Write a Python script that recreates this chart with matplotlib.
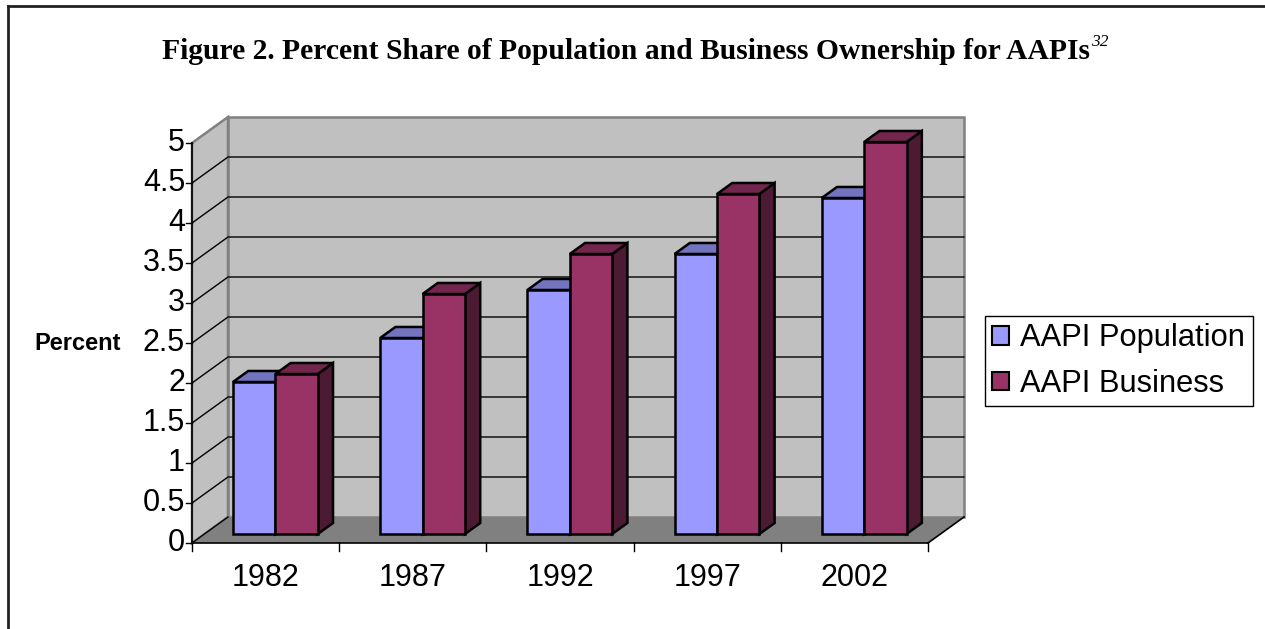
import matplotlib
matplotlib.use("Agg")
import matplotlib.pyplot as plt
from matplotlib.patches import Polygon, Patch
from matplotlib.lines import Line2D

# ---- data ----
years = ["1982", "1987", "1992", "1997", "2002"]
population = [1.9, 2.45, 3.05, 3.5, 4.2]
business = [2.0, 3.0, 3.5, 4.25, 4.9]
series_names = ["AAPI Population", "AAPI Business"]
y_ticks = [0, 0.5, 1, 1.5, 2, 2.5, 3, 3.5, 4, 4.5, 5]
y_tick_labels = ["0", "0.5", "1", "1.5", "2", "2.5", "3", "3.5", "4", "4.5", "5"]

# ---- styling / geometry ----
W, H = 1265, 629
X0PX, CATPX = 192.0, 147.2     # front floor origin and px per category
Y0PX, VALPX = 543.0, 80.0      # front floor y (from top) and px per value unit
DX, DY = 36.0 / CATPX, 26.0 / VALPX   # full wall depth in data units
D1, D2 = 0.346, 0.77           # bar front/back depth fractions
BAR_OFF = 28.5 / CATPX
BAR_W = 42.4 / CATPX
VMAX = 5

face = {"pop": ("#9999FF", "#7373C0", "#5C5C99"),
        "bus": ("#993366", "#73264D", "#4D1A33")}
wall_c = "#C0C0C0"
floor_c = "#808080"
edge_gray = "#808080"

fig = plt.figure(figsize=(W / 100, H / 100), dpi=100)
ax = fig.add_axes([0, 0, 1, 1])
ax.set_xlim(-X0PX / CATPX, (W - X0PX) / CATPX)
ax.set_ylim((Y0PX - H) / VALPX, Y0PX / VALPX)
ax.axis("off")


def P(x, v, d):
    return (x + d * DX, v + d * DY)


ncat = len(years)

# floor
ax.add_patch(Polygon([P(0, 0, 0), P(ncat, 0, 0), P(ncat, 0, 1), P(0, 0, 1)],
                     closed=True, facecolor=floor_c, edgecolor="none", zorder=1))
# left wall
ax.add_patch(Polygon([P(0, 0, 0), P(0, 0, 1), P(0, VMAX, 1), P(0, VMAX, 0)],
                     closed=True, facecolor=wall_c, edgecolor=edge_gray, lw=1.8, zorder=1))
# back wall
ax.add_patch(Polygon([P(0, 0, 1), P(ncat, 0, 1), P(ncat, VMAX, 1), P(0, VMAX, 1)],
                     closed=True, facecolor=wall_c, edgecolor=edge_gray, lw=1.8, zorder=1))

# gridlines
for v in y_ticks[:-1]:
    pts = [P(0, v, 0), P(0, v, 1)] + ([P(ncat, v, 1)] if v > 0 else [])
    ax.plot([p[0] for p in pts], [p[1] for p in pts], color="black", lw=1.0, zorder=2)

# floor edges
ax.plot([P(0, 0, 0)[0], P(ncat, 0, 0)[0]], [0, 0], color="black", lw=1.2, zorder=6)
a, b = P(ncat, 0, 0), P(ncat, 0, 1)
ax.plot([a[0], b[0]], [a[1], b[1]], color="black", lw=1.2, zorder=6)

# y axis
ax.plot([0, 0], [0, VMAX], color="black", lw=1.2, zorder=6)
tick_len = 6 / CATPX
for v, lab in zip(y_ticks, y_tick_labels):
    ax.plot([-tick_len, 0], [v, v], color="black", lw=1.0, zorder=6)
    ax.text(-7 / CATPX, v, lab, ha="right", va="center", fontsize=22,
            family="Liberation Sans")

# x ticks and labels
for i in range(ncat + 1):
    ax.plot([i, i], [0, -8 / VALPX], color="black", lw=1.0, zorder=6)
for i, yr in enumerate(years):
    ax.text(i + 0.5, -35 / VALPX, yr, ha="center", va="center", fontsize=22,
            family="Liberation Sans")

# bars
def draw_bar(xl, v, key, z):
    fc, tc, sc = face[key]
    xr = xl + BAR_W
    kw = dict(closed=True, edgecolor="black", lw=1.8, joinstyle="miter", zorder=z)
    ax.add_patch(Polygon([P(xr, 0, D1), P(xr, 0, D2), P(xr, v, D2), P(xr, v, D1)],
                         facecolor=sc, **kw))
    ax.add_patch(Polygon([P(xl, v, D1), P(xr, v, D1), P(xr, v, D2), P(xl, v, D2)],
                         facecolor=tc, **kw))
    ax.add_patch(Polygon([P(xl, 0, D1), P(xr, 0, D1), P(xr, v, D1), P(xl, v, D1)],
                         facecolor=fc, **kw))


for i in range(ncat):
    draw_bar(i + BAR_OFF, population[i], "pop", 3 + i * 0.1)
    draw_bar(i + BAR_OFF + BAR_W, business[i], "bus", 3.05 + i * 0.1)

# axis title
ax.text((77.5 - X0PX) / CATPX, 2.5, "Percent", ha="center", va="center",
        fontsize=17, fontweight="bold", family="Liberation Sans")

# chart title with superscript
title = fig.text(162 / W, 1 - 59 / H,
                 "Figure 2. Percent Share of Population and Business Ownership for AAPIs",
                 ha="left", va="baseline", fontsize=21.35, fontweight="bold",
                 family="Liberation Serif")
fig.canvas.draw()
bb = title.get_window_extent()
fig.text((bb.x1 + 1) / W, 1 - 46 / H, "32", ha="left", va="baseline",
         fontsize=12.5, style="italic", family="Liberation Serif")

# legend
handles = [Patch(facecolor=face["pop"][0], edgecolor="black", lw=1.5),
           Patch(facecolor=face["bus"][0], edgecolor="black", lw=1.5)]
leg = fig.legend(handles, series_names, loc="upper left",
                 bbox_to_anchor=(985 / W, 1 - 316 / H), borderaxespad=0,
                 prop={"family": "Liberation Sans", "size": 22.2},
                 handlelength=0.55, handleheight=0.55, handletextpad=0.36,
                 labelspacing=0.5, borderpad=0.24, fancybox=False, framealpha=1,
                 edgecolor="black")
leg.get_frame().set_linewidth(1.0)

# outer frame (top and left)
ax.add_line(Line2D([8 / W, 8 / W], [0, 1 - 6 / H], transform=ax.transAxes,
                   color="#222222", lw=2, clip_on=False))
ax.add_line(Line2D([8 / W, 1], [1 - 6 / H, 1 - 6 / H], transform=ax.transAxes,
                   color="#222222", lw=2, clip_on=False))

fig.savefig("out.png", dpi=100)
